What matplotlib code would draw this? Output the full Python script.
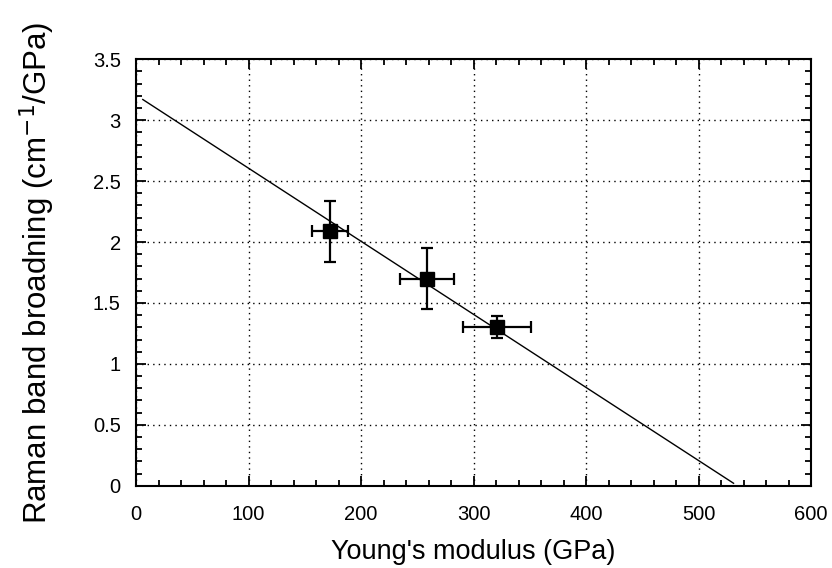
import matplotlib
matplotlib.use('Agg')
import matplotlib.pyplot as plt
from matplotlib.ticker import MultipleLocator, FuncFormatter

plt.rcParams['font.family'] = ['Liberation Sans', 'DejaVu Sans']

# data
modulus = [172, 259, 321]          # Young's modulus (GPa)
modulus_err = [16, 24, 30]
broadening = [2.09, 1.70, 1.30]    # Raman band broadening (cm-1/GPa)
broadening_err = [0.25, 0.25, 0.09]

# linear fit line end points
fit_x = [6, 531]
fit_y = [3.17, 0.02]

fig = plt.figure(figsize=(8.32, 5.68), dpi=100)
ax = fig.add_axes([0.1635, 0.1449, 0.8115, 0.7507])

ax.plot(fit_x, fit_y, color='black', lw=1.0, zorder=2)
ax.errorbar(modulus, broadening, xerr=modulus_err, yerr=broadening_err,
            fmt='s', color='black', ms=10, elinewidth=1.6, capsize=4,
            capthick=1.6, zorder=3)

ax.set_xlim(0, 600)
ax.set_ylim(0, 3.5)
ax.xaxis.set_major_locator(MultipleLocator(100))
ax.xaxis.set_minor_locator(MultipleLocator(20))
ax.yaxis.set_major_locator(MultipleLocator(0.5))
ax.yaxis.set_minor_locator(MultipleLocator(0.1))
ax.yaxis.set_major_formatter(FuncFormatter(lambda v, p: '%g' % v))

ax.grid(True, which='major', color='black', linestyle=(0, (1, 3)), linewidth=1.0)
ax.tick_params(which='both', direction='in', top=True, right=True,
               width=1.3, color='black')
ax.tick_params(which='major', length=7, labelsize=14.5)
ax.tick_params(axis='x', which='major', pad=14)
ax.tick_params(axis='y', which='major', pad=11)
ax.tick_params(which='minor', length=4)
for s in ax.spines.values():
    s.set_linewidth(1.5)

ax.set_xlabel("Young's modulus (GPa)", fontsize=19.5, labelpad=11)
ax.set_ylabel('Raman band broadning (cm$^{-1}$/GPa)', fontsize=22.5, labelpad=26)

fig.savefig('out.png', dpi=100)
